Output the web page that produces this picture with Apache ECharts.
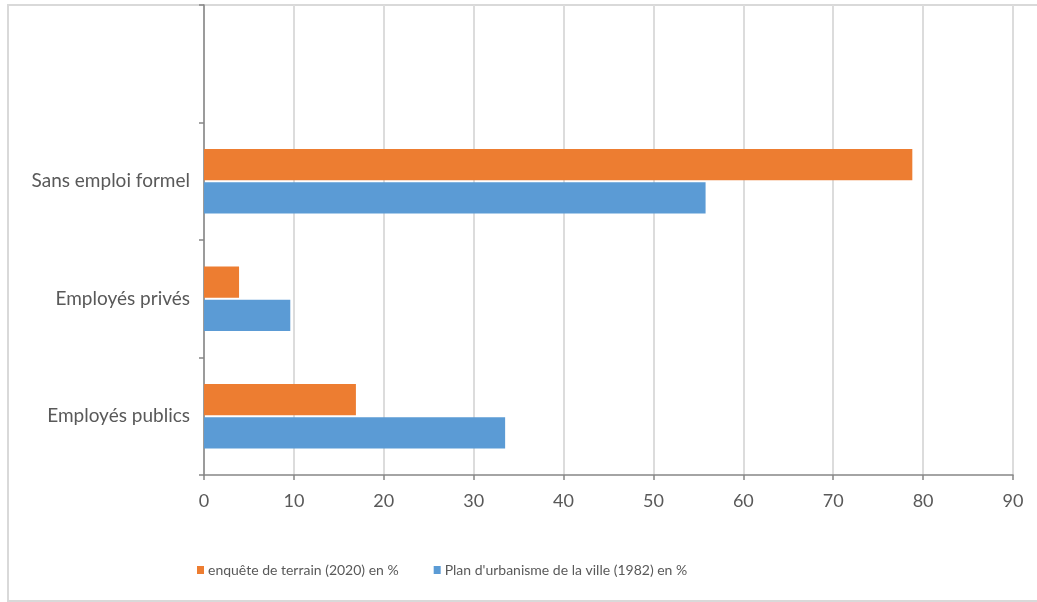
<!DOCTYPE html>
<html>
<head>
<meta charset="utf-8">
<script src="https://cdn.jsdelivr.net/npm/echarts@6/dist/echarts.min.js"></script>
<style>
  html, body { margin: 0; padding: 0; background: #fff; }
  #chart { width: 1037px; height: 602px; }
</style>
</head>
<body>
<div id="chart"></div>
<script>
// Categories from bottom to top; the top slot is left empty
const categories = ['Employés publics', 'Employés privés', 'Sans emploi formel', ''];
const survey2020 = [16.9, 3.9, 78.8, null];
const plan1982 = [33.5, 9.6, 55.8, null];
const xTicks = { min: 0, max: 90, interval: 10 };

const nameSurvey = 'enquête de terrain (2020) en %';
const namePlan = "Plan d'urbanisme de la ville (1982) en %";

const textColor = '#595959';
const axisColor = '#868686';
const fontFamily = 'Lato, "Open Sans", sans-serif';

const chart = echarts.init(document.getElementById('chart'));
chart.setOption({
  animation: false,
  textStyle: { fontFamily: fontFamily },
  graphic: [{
    type: 'rect',
    shape: { x: 8, y: 5, width: 1040, height: 596 },
    style: { fill: 'none', stroke: '#d9d9d9', lineWidth: 2 },
    z: -10
  }],
  grid: { left: 204, right: 24, top: 5, bottom: 127 },
  legend: {
    data: [nameSurvey, namePlan],
    left: 192,
    top: 558,
    itemWidth: 7,
    itemHeight: 8,
    itemGap: 35,
    icon: 'rect',
    textStyle: { color: textColor, fontSize: 14, fontFamily: fontFamily, padding: [0, 0, 0, -1] }
  },
  xAxis: {
    type: 'value',
    min: xTicks.min,
    max: xTicks.max,
    interval: xTicks.interval,
    axisLine: { show: true, lineStyle: { color: axisColor, width: 1.5 } },
    axisTick: { show: true, length: 5, lineStyle: { color: axisColor, width: 1.5 } },
    axisLabel: { color: textColor, fontSize: 18, margin: 17, fontFamily: fontFamily },
    splitLine: { show: true, lineStyle: { color: '#dcdcdc', width: 2 } }
  },
  yAxis: {
    type: 'category',
    data: categories,
    axisLine: { show: true, lineStyle: { color: axisColor, width: 1.5 } },
    axisTick: { show: true, length: 5, lineStyle: { color: axisColor, width: 1.5 } },
    axisLabel: { color: textColor, fontSize: 19, margin: 14, fontFamily: fontFamily },
    splitLine: { show: false }
  },
  series: [
    {
      name: nameSurvey,
      type: 'bar',
      data: survey2020,
      itemStyle: { color: '#ED7D31' },
      barGap: '6%',
      barCategoryGap: '45%'
    },
    {
      name: namePlan,
      type: 'bar',
      data: plan1982,
      itemStyle: { color: '#5B9BD5' },
      barGap: '6%',
      barCategoryGap: '45%'
    }
  ]
});
</script>
</body>
</html>
